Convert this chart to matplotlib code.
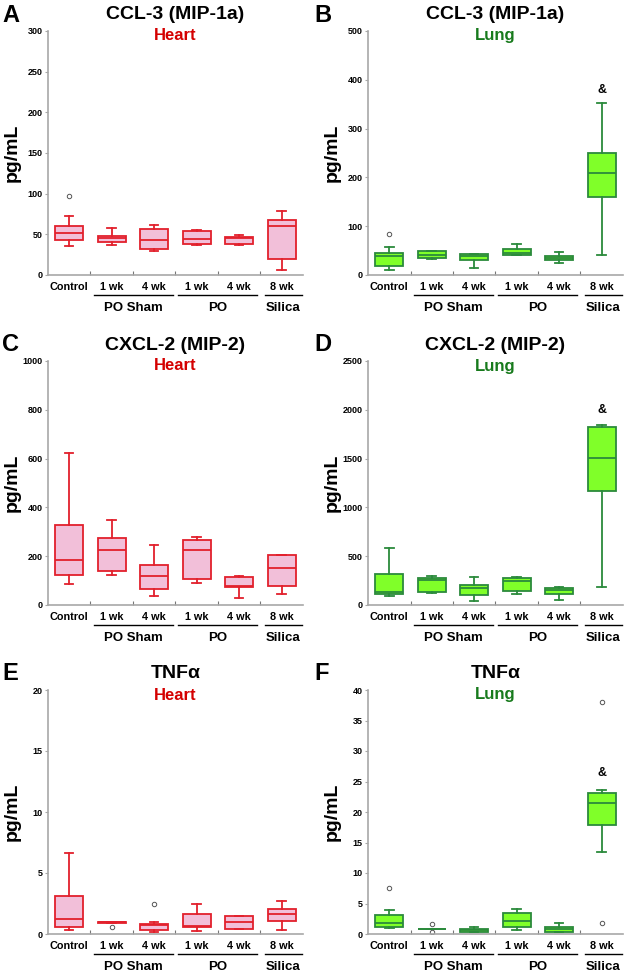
import matplotlib
matplotlib.use('Agg')
import matplotlib.pyplot as plt
import matplotlib.transforms as mtransforms

plt.rcParams['font.family'] = ['Liberation Sans', 'DejaVu Sans']
plt.rcParams['font.weight'] = 'bold'

cats = ['Control', '1 wk', '4 wk', '1 wk', '4 wk', '8 wk']
groups = ['PO Sham', 'PO', 'Silica']
group_span = [(1.58, 3.44), (3.56, 5.42), (5.6, 6.47)]

# A - CCL-3 heart
a_lo = [36, 37, 29, 36.5, 37, 6.5]
a_q1 = [42.5, 40, 32, 38, 38.4, 20]
a_med = [51.5, 46, 43, 44.5, 46, 60]
a_q3 = [60.5, 48, 57, 53.5, 47, 68]
a_hi = [73, 57.6, 61, 55, 48.6, 79]
a_out = [[97], [], [], [], [], []]

# B - CCL-3 lung
b_lo = [11, 32, 14, 40, 24.5, 42]
b_q1 = [18.4, 34, 31, 41, 31, 159]
b_med = [39.5, 41.5, 38, 46, 35, 208]
b_q3 = [45, 48.4, 43.6, 53, 38, 250]
b_hi = [58, 50, 44, 63, 48, 353]
b_out = [[84], [], [], [], [], []]

# C - CXCL-2 heart
c_lo = [86, 121, 38, 91, 29, 46]
c_q1 = [123, 138, 65, 108, 72, 79]
c_med = [185, 225, 120, 226, 76, 150]
c_q3 = [326, 274, 165, 268, 114, 203]
c_hi = [621, 349, 245, 279, 118, 206]
c_out = [[], [], [], [], [], []]

# D - CXCL-2 lung
d_lo = [92, 119, 41, 112, 51, 180]
d_q1 = [109, 129, 99, 143, 112, 1165]
d_med = [136, 259, 174, 242, 150, 1505]
d_q3 = [313, 276, 208, 276, 177, 1822]
d_hi = [582, 296, 283, 290, 184, 1843]
d_out = [[], [], [], [], [], []]

# E - TNFa heart
e_lo = [0.35, 0.87, 0.16, 0.27, 0.43, 0.35]
e_q1 = [0.54, 0.9, 0.35, 0.54, 0.43, 1.06]
e_med = [1.2, 0.95, 0.7, 0.62, 0.95, 1.66]
e_q3 = [3.13, 0.98, 0.82, 1.68, 1.47, 2.09]
e_hi = [6.63, 1.0, 0.95, 2.42, 1.47, 2.72]
e_out = [[], [0.57], [2.45], [], [], []]

# F - TNFa lung
f_lo = [0.92, 0.85, 0.27, 0.6, 0.38, 13.5]
f_q1 = [1.2, 0.85, 0.38, 1.2, 0.38, 17.8]
f_med = [1.79, 0.87, 0.6, 2.12, 0.76, 21.5]
f_q3 = [3.04, 0.89, 0.82, 3.37, 1.14, 23.1]
f_hi = [3.86, 0.89, 1.09, 4.18, 1.85, 23.6]
f_out = [[7.55], [1.58, 0.33], [], [], [], [38, 1.74]]

heart = dict(fill='#f2bfd9', edge='#e2202c', title='#d40000', name='Heart')
lung = dict(fill='#80ff29', edge='#2b8a3c', title='#177a1c', name='Lung')

panels = [
    ('A', 'CCL-3 (MIP-1a)', heart, (a_lo, a_q1, a_med, a_q3, a_hi, a_out), 300, 50, None),
    ('B', 'CCL-3 (MIP-1a)', lung, (b_lo, b_q1, b_med, b_q3, b_hi, b_out), 500, 100, 380),
    ('C', 'CXCL-2 (MIP-2)', heart, (c_lo, c_q1, c_med, c_q3, c_hi, c_out), 1000, 200, None),
    ('D', 'CXCL-2 (MIP-2)', lung, (d_lo, d_q1, d_med, d_q3, d_hi, d_out), 2500, 500, 2000),
    ('E', 'TNF\u03b1', heart, (e_lo, e_q1, e_med, e_q3, e_hi, e_out), 20, 5, None),
    ('F', 'TNF\u03b1', lung, (f_lo, f_q1, f_med, f_q3, f_hi, f_out), 40, 5, 26.4),
]

W, H = 625, 976
fig = plt.figure(figsize=(W / 100, H / 100), dpi=100)

col_left = [48, 368]
row_top = [31, 361, 690]
ax_w, ax_h = 255, 244
spine_col = '#a8a8a8'

for i, (letter, title, tis, stats, ymax, ystep, amp) in enumerate(panels):
    r, c = divmod(i, 2)
    x0, y0 = col_left[c], row_top[r]
    ax = fig.add_axes([x0 / W, 1 - (y0 + ax_h) / H, ax_w / W, ax_h / H])
    lo, q1, med, q3, hi, out = stats
    bstats = []
    for k in range(len(cats)):
        bstats.append(dict(whislo=lo[k], q1=q1[k], med=med[k], q3=q3[k],
                           whishi=hi[k], fliers=out[k]))
    ax.bxp(bstats, positions=range(1, 7), widths=0.66, capwidths=0.2,
           patch_artist=True, showfliers=True,
           boxprops=dict(facecolor=tis['fill'], edgecolor=tis['edge'], linewidth=1.3),
           medianprops=dict(color=tis['edge'], linewidth=1.3),
           whiskerprops=dict(color=tis['edge'], linewidth=1.3),
           capprops=dict(color=tis['edge'], linewidth=1.3),
           flierprops=dict(marker='o', markersize=3.2, markerfacecolor='white',
                           markeredgecolor='#555555', markeredgewidth=0.7))
    ax.set_xlim(0.5, 6.5)
    ax.set_ylim(0, ymax)
    ax.set_yticks(range(0, ymax + 1, ystep))
    ax.set_xticks([1.5, 2.5, 3.5, 4.5, 5.5])
    ax.set_xticklabels([])
    ax.tick_params(axis='x', direction='in', length=3, color='#777777', width=0.8)
    ax.tick_params(axis='y', length=2, color=spine_col, labelsize=6.5, pad=2)
    for s in ['top', 'right']:
        ax.spines[s].set_visible(False)
    for s in ['left', 'bottom']:
        ax.spines[s].set_color(spine_col)
        ax.spines[s].set_linewidth(1.2)

    ax.set_ylabel('pg/mL', fontsize=14, fontweight='bold')
    ax.yaxis.set_label_coords(-27 / ax_w, 0.5)

    trans = mtransforms.blended_transform_factory(ax.transData, ax.transAxes)
    for k, lab in enumerate(cats):
        ax.text(k + 1, -12 / ax_h, lab, transform=trans, ha='center', va='center',
                fontsize=7.8, fontweight='bold')
    for (g0, g1), g in zip(group_span, groups):
        ax.plot([g0, g1], [-20 / ax_h, -20 / ax_h], transform=trans, color='black',
                linewidth=1.0, clip_on=False)
        ax.text((g0 + g1) / 2, -33 / ax_h, g, transform=trans, ha='center',
                va='center', fontsize=9.5, fontweight='bold')

    ax.text(0.5, 1 + 16 / ax_h, title, transform=ax.transAxes, ha='center',
            va='center', fontsize=14, fontweight='bold')
    ax.text(0.5, 1 - 5 / ax_h, tis['name'], transform=ax.transAxes, ha='center',
            va='center', fontsize=12, fontweight='bold', color=tis['title'])
    if amp is not None:
        ax.text(6, amp, '&', ha='center', va='center', fontsize=9, fontweight='bold')

    fig.text((2 if c == 0 else 314) / W, 1 - (y0 - 16) / H, letter, ha='left',
             va='center', fontsize=17, fontweight='bold')

fig.savefig('out.png', dpi=100)
